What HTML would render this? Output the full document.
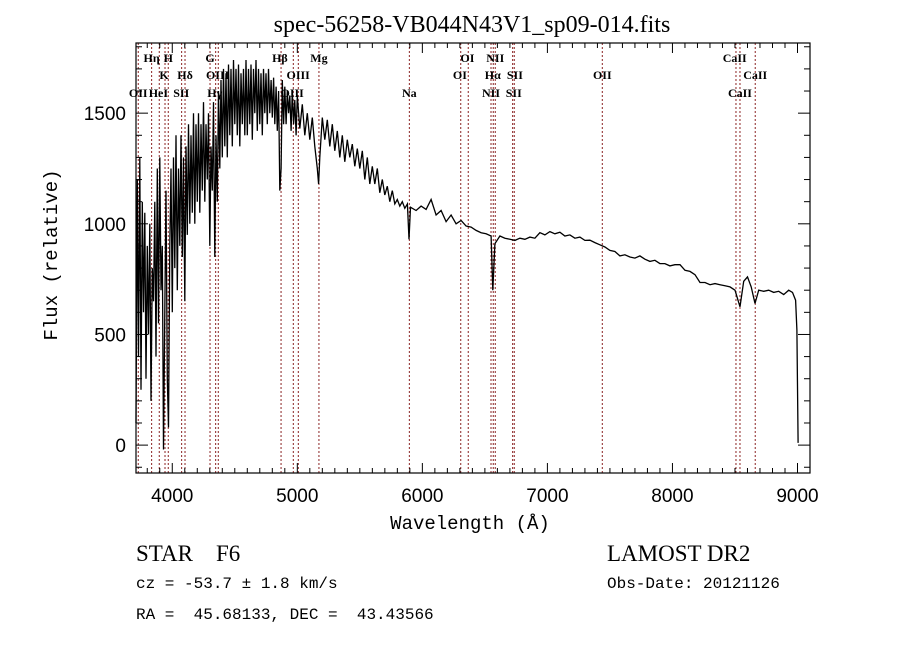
<!DOCTYPE html>
<html><head><meta charset="utf-8"><style>
html,body{margin:0;padding:0;background:#fff;}
svg{display:block;}
text{fill:#000;}
.tk{font-family:"Liberation Sans",sans-serif;font-size:19px;}
.ln{font-family:"Liberation Serif",serif;font-size:12px;font-weight:bold;}
.mono{font-family:"Liberation Mono",monospace;}
</style></head><body>
<svg id="chart" width="900" height="649" viewBox="0 0 900 649" xmlns="http://www.w3.org/2000/svg">
<rect width="900" height="649" fill="#fff"/>
<text x="472" y="32" text-anchor="middle" font-family="Liberation Serif, serif" font-size="24">spec-56258-VB044N43V1_sp09-014.fits</text>
<g id="lines"></g>
<g id="spec"></g>
<rect x="136" y="43" width="674" height="430" fill="none" stroke="#000" stroke-width="1.2"/>
<g id="ticks"></g>
<text class="mono" x="470" y="529" text-anchor="middle" font-size="19">Wavelength (Å)</text>
<text class="mono" x="0" y="0" text-anchor="middle" font-size="19" transform="translate(57,255) rotate(-90)">Flux (relative)</text>
<text x="136" y="561" font-family="Liberation Serif, serif" font-size="23" xml:space="preserve">STAR    F6</text>
<text x="607" y="561" font-family="Liberation Serif, serif" font-size="23">LAMOST DR2</text>
<text class="mono" x="136" y="588" font-size="16" xml:space="preserve">cz = -53.7 ± 1.8 km/s</text>
<text class="mono" x="607" y="588" font-size="16">Obs-Date: 20121126</text>
<text class="mono" x="136" y="619" font-size="16" xml:space="preserve">RA =  45.68133, DEC =  43.43566</text>
</svg>
<script>
var waves=[3710,3720,3730,3740,3750,3760,3770,3780,3790,3800,3810,3820,3830,3840,3850,3860,3870,3880,3890,3900,3910,3920,3930,3940,3950,3960,3970,3980,3990,4000,4010,4020,4030,4040,4050,4060,4070,4080,4090,4100,4110,4120,4130,4140,4150,4160,4170,4180,4190,4200,4210,4220,4230,4240,4250,4260,4270,4280,4290,4300,4310,4320,4330,4340,4350,4360,4370,4380,4390,4400,4410,4420,4430,4440,4450,4460,4470,4480,4490,4500,4510,4520,4530,4540,4550,4560,4570,4580,4590,4600,4610,4620,4630,4640,4650,4660,4670,4680,4690,4700,4710,4720,4730,4740,4750,4760,4770,4780,4790,4800,4810,4820,4830,4840,4850,4860,4870,4880,4890,4900,4910,4920,4930,4940,4950,4960,4970,4980,4990,5000,5020,5040,5060,5080,5100,5120,5140,5160,5170,5180,5200,5220,5240,5260,5280,5300,5320,5340,5360,5380,5400,5420,5440,5460,5480,5500,5520,5540,5560,5580,5600,5620,5640,5660,5680,5700,5720,5740,5760,5780,5800,5820,5840,5860,5880,5893,5905,5950,5990,6030,6070,6110,6150,6190,6230,6270,6310,6350,6390,6430,6470,6510,6550,6563,6580,6620,6660,6700,6740,6780,6820,6860,6900,6940,6980,7020,7060,7100,7140,7180,7220,7260,7300,7340,7380,7420,7460,7500,7540,7580,7620,7660,7700,7740,7780,7820,7860,7900,7940,7980,8020,8060,8100,8140,8180,8220,8260,8300,8340,8380,8420,8460,8500,8540,8570,8600,8630,8660,8690,8730,8770,8810,8850,8890,8930,8960,8985,8995,9005];
var flux=[100,1200,400,1300,250,1100,600,1050,300,900,500,1000,200,800,650,1100,400,1250,550,1300,700,900,-20,600,1150,300,80,900,1250,600,1300,800,1400,700,1250,900,1400,850,1300,650,1350,950,1450,1000,1400,1050,1500,1000,1450,1100,1500,1050,1450,1150,1550,1100,1450,1200,1500,900,1350,1150,1550,850,1400,1100,1600,1250,1650,1300,1700,1350,1680,1300,1720,1400,1700,1350,1740,1450,1700,1400,1720,1350,1680,1450,1700,1400,1740,1400,1700,1450,1720,1380,1700,1500,1740,1420,1700,1450,1680,1400,1700,1500,1680,1450,1700,1500,1650,1480,1660,1450,1620,1420,1600,1150,1250,1650,1450,1620,1450,1600,1500,1580,1420,1600,1450,1560,1400,1580,1430,1540,1400,1500,1380,1480,1350,1250,1180,1300,1480,1380,1470,1350,1450,1330,1420,1300,1400,1280,1380,1300,1360,1260,1340,1250,1330,1200,1300,1180,1260,1180,1250,1140,1200,1130,1170,1100,1150,1090,1110,1080,1100,1070,1090,930,1075,1060,1080,1065,1110,1040,1060,1010,1040,1000,1015,990,985,970,960,955,945,700,910,945,935,930,925,935,930,940,935,960,950,965,955,962,945,950,935,940,925,926,915,905,895,880,875,855,860,850,845,855,840,830,835,820,820,810,815,815,790,785,770,735,735,725,730,725,720,715,700,625,740,760,715,640,700,695,700,690,695,680,700,690,655,520,10];
var lineWaves=[3728,3835,3896,3942,3968,4075,4102,4302,4347,4368,4870,4968,5008,5173,5896,6307,6367,6549,6567,6583,6722,6735,7439,8508,8540,8662];
var lineNames=[["OII",3728,3],["Hη",3835,1],["HeI",3889,3],["K",3934,2],["H",3968,1],["SII",4072,3],["Hδ",4102,2],["G",4302,1],["Hγ",4340,3],["OIII",4363,2],["Hβ",4861,1],["OIII",4959,3],["OIII",5007,2],["Mg",5173,1],["Na",5896,3],["OI",6360,1],["OI",6300,2],["NII",6583,1],["Hα",6563,2],["NII",6549,3],["SII",6740,2],["SII",6731,3],["OII",7439,2],["CaII",8498,1],["CaII",8662,2],["CaII",8540,3]];
var xTicks=[4000,5000,6000,7000,8000,9000];
var yTicks=[0,500,1000,1500];
var NS="http://www.w3.org/2000/svg";
var X0=136,X1=810,W0=3710,W1=9100,Y0=473,Y1=43,F0=-126,F1=1817;
function xs(w){return X0+(w-W0)*(X1-X0)/(W1-W0);}
function ys(f){return Y0-(f-F0)*(Y0-Y1)/(F1-F0);}
function mk(t,a,p){var e=document.createElementNS(NS,t);for(var k in a)e.setAttribute(k,a[k]);p.appendChild(e);return e;}
var gl=document.getElementById('lines');
lineWaves.forEach(function(w){
  var l=mk('line',{x1:xs(w),x2:xs(w),y1:43,y2:473,stroke:'#8b2323','stroke-width':1,'stroke-dasharray':'2,2'},gl);
  
  
});
var rowY=[0,62,79,97];
lineNames.forEach(function(n){
  var t=mk('text',{x:xs(n[1]),y:rowY[n[2]],'text-anchor':'middle','class':'ln'},gl);
  t.textContent=n[0];
  
  
});
var d='';
for(var i=0;i<waves.length;i++){
  var y=Math.max(Y1,Math.min(Y0,ys(flux[i])));
  d+=(i?'L':'M')+xs(waves[i]).toFixed(1)+' '+y.toFixed(1);
}
var p=mk('path',{d:d,fill:'none',stroke:'#000','stroke-width':1.3,'stroke-linejoin':'miter'},document.getElementById('spec'));


var gt=document.getElementById('ticks');
for(var w=3800;w<=9100;w+=100){
  var maj=(w%1000===0),L=maj?10:5,x=xs(w);
  mk('line',{x1:x,x2:x,y1:473,y2:473-L,stroke:'#000'},gt);
  mk('line',{x1:x,x2:x,y1:43,y2:43+L,stroke:'#000'},gt);
}
for(var f=-100;f<=1800;f+=100){
  var maj2=(f%500===0),L2=maj2?12:6,y2=ys(f);
  mk('line',{x1:136,x2:136+L2,y1:y2,y2:y2,stroke:'#000'},gt);
  mk('line',{x1:810,x2:810-L2,y1:y2,y2:y2,stroke:'#000'},gt);
}
xTicks.forEach(function(w){
  var t=mk('text',{x:xs(w),y:502,'text-anchor':'middle','class':'tk'},gt);
  t.textContent=w;
  
  
});
yTicks.forEach(function(f){
  var t=mk('text',{x:126,y:ys(f)+7,'text-anchor':'end','class':'tk'},gt);
  t.textContent=f;
  
  
});
</script>
</body></html>
